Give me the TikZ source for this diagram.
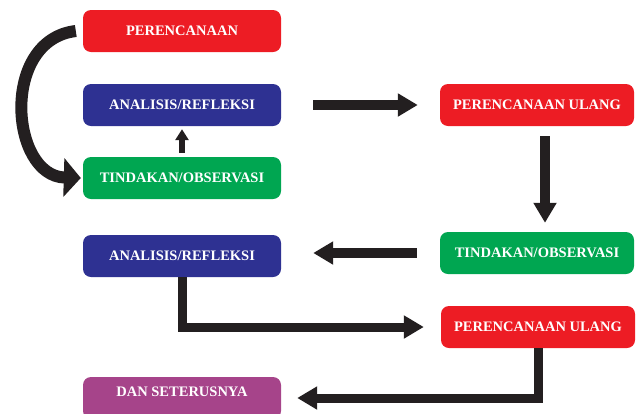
\documentclass[tikz,border=0pt]{standalone}
\usepackage{fontspec}
\setmainfont{Liberation Serif}
\usetikzlibrary{arrows.meta}
\definecolor{cred}{HTML}{ED1C24}
\definecolor{cblue}{HTML}{2E3192}
\definecolor{cgreen}{HTML}{00A651}
\definecolor{cpurple}{HTML}{A6448A}
\definecolor{cblack}{HTML}{231F20}
\tikzset{
  box/.style={rounded corners=8pt, minimum height=42pt, inner sep=0pt, text=white,
    font=\bfseries\fontsize{14.5}{16}\selectfont},
  lbox/.style={box, minimum width=198pt},
  rbox/.style={box, minimum width=194pt},
  arr/.style={draw=cblack, line width=10pt, -{Triangle[length=20pt,width=22pt]}},
  thinarr/.style={draw=cblack, line width=6pt, -{Triangle[length=11pt,width=13pt]}},
  bigarr/.style={draw=cblack, line width=12pt, -{Triangle[length=17pt,width=38pt]}}
}
\begin{document}
\begin{tikzpicture}[x=1pt,y=-1pt]
\useasboundingbox (0,0) rectangle (636,413);
\node[lbox, fill=cred]    (P1) at (182,31)  {PERENCANAAN};
\node[lbox, fill=cblue]   (A1) at (182,105) {ANALISIS/REFLEKSI};
\node[lbox, fill=cgreen]  (T1) at (182,178) {TINDAKAN/OBSERVASI};
\node[rbox, fill=cred]    (PU1) at (537,105) {PERENCANAAN ULANG};
\node[rbox, fill=cgreen]  (T2) at (537,253) {TINDAKAN/OBSERVASI};
\node[lbox, fill=cblue]   (A2) at (182,256) {ANALISIS/REFLEKSI};
\node[rbox, fill=cred]    (PU2) at (538,327) {PERENCANAAN ULANG};
\node[lbox, fill=cpurple] (D) at (182,398) {\raisebox{1.5pt}[0pt][0pt]{DAN SETERUSNYA}};

\draw[bigarr] ([xshift=-7pt]P1.west) .. controls (0,40) and (10,176) .. ([xshift=-2pt]T1.west);
\draw[thinarr, shorten <=4pt, shorten >=3pt] (T1.north) -- (A1.south);
\draw[arr, shorten <=32pt, shorten >=22pt] (A1.east) -- (A1.east -| PU1.west);
\draw[arr, shorten <=10pt, shorten >=9pt] ([xshift=8pt]PU1.south) -- ([xshift=8pt]T2.north);
\draw[arr, shorten <=23pt, shorten >=32pt] (T2.west) -- (T2.west -| A2.east);
\draw[arr, line width=9pt, shorten >=17pt] (A2.south) |- (PU2.west);
\draw[arr, line width=9pt, shorten >=16pt] (PU2.south) |- (D.east);
\end{tikzpicture}
\end{document}
